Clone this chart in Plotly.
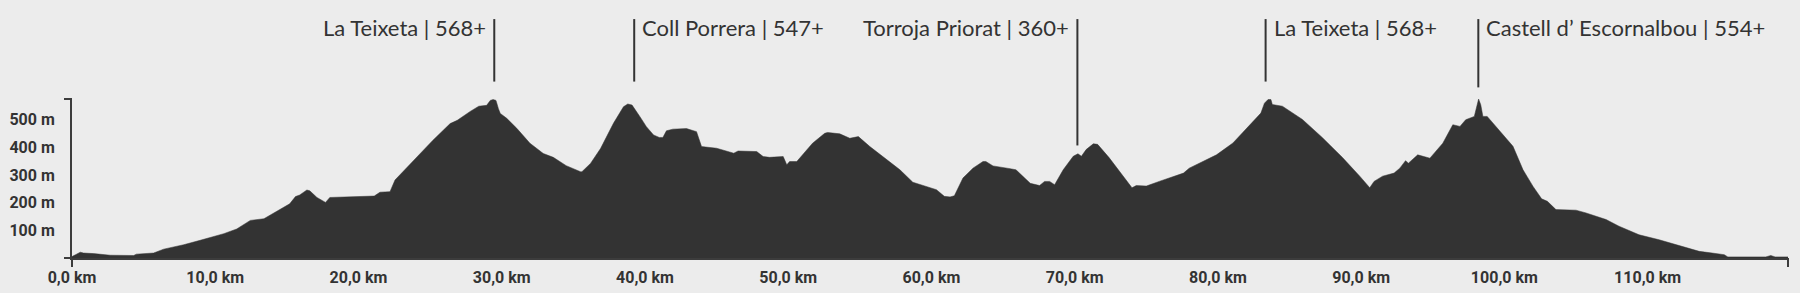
import plotly.graph_objects as go

# ---- data ----
distance_km = [0, 0.58, 0.8, 1.28, 1.5, 2.67, 4.3, 4.5, 5.7, 6.4, 7.8, 8.95, 10.6, 11.5, 12.45, 13.4,
               14.8, 15.2, 15.6, 15.9, 16.4, 16.6, 17.1, 17.7, 18.0, 19.4, 20.8, 21.1, 21.5, 22.2, 22.55,
               23.1, 24.07, 25.2, 26.4, 26.9, 27.8, 28.4, 28.95, 29.2, 29.4, 29.6, 29.77, 29.9, 30.35,
               31.05, 31.97, 32.9, 33.6, 34.5, 35.5, 35.6, 36.2, 36.9, 37.8, 38.5, 38.8, 39.1, 39.65,
               40.1, 40.6, 41.0, 41.25, 41.5, 41.95, 42.9, 43.6, 43.95, 45.0, 46.2, 46.5, 47.8, 48.25,
               48.7, 49.65, 49.9, 50.1, 50.6, 51.7, 52.55, 52.75, 53.6, 54.3, 54.9, 55.7, 56.9, 57.8,
               58.7, 59.9, 60.35, 60.9, 61.3, 61.6, 62.2, 62.9, 63.6, 63.8, 64.3, 65.5, 65.9, 66.9,
               67.55, 67.9, 68.25, 68.6, 69.2, 69.9, 70.23, 70.47, 70.8, 71.3, 71.6, 72.4, 73.4, 74.0,
               74.3, 75.0, 75.9, 77.6, 78.0, 79.9, 81.05, 82.2, 83.0, 83.25, 83.5, 83.7, 83.8, 84.5,
               85.9, 87.3, 88.7, 89.9, 90.6, 90.9, 91.5, 92.3, 92.7, 93.1, 93.3, 93.95, 94.3, 94.8,
               95.7, 96.4, 96.9, 97.3, 97.9, 98.05, 98.2, 98.35, 98.5, 98.8, 99.2, 99.9, 100.6, 101.3,
               102.0, 102.6, 103.0, 103.6, 105.0, 105.7, 107.1, 108.0, 109.4, 110.8, 112.2, 113.6,
               114.5, 115.35, 115.6, 118.25, 118.6, 118.9, 119.8]

elevation_m = [5, 21, 18, 18, 16, 10, 9, 14, 18, 32, 48, 64, 88, 105, 136, 142,
               184, 196, 222, 228, 246, 243, 219, 201, 219, 222, 224, 224, 238, 240, 282,
               312, 366, 426, 486, 498, 530, 549, 552, 570, 573, 570, 540, 523, 505,
               469, 415, 378, 364, 334, 312, 312, 342, 396, 487, 547, 557, 553, 511,
               475, 445, 436, 436, 460, 466, 468, 457, 403, 397, 379, 387, 385, 367,
               364, 367, 337, 349, 349, 415, 451, 454, 449, 433, 439, 403, 355, 319,
               274, 253, 247, 223, 221, 225, 289, 325, 349, 349, 333, 323, 319, 270,
               262, 277, 277, 265, 319, 368, 377, 368, 392, 413, 411, 363, 296, 254,
               262, 260, 277, 307, 325, 373, 416, 482, 524, 560, 573, 573, 555, 549,
               501, 435, 363, 296, 254, 277, 296, 307, 325, 352, 343, 373, 369, 361,
               415, 482, 476, 500, 512, 548, 575, 554, 512, 512, 488, 446, 404, 319,
               259, 214, 205, 175, 173, 163, 139, 115, 84, 66, 45, 24,
               18, 12, 4, 4, 9, 4, 4]

label_names = ["La Teixeta | 568+", "Coll Porrera | 547+", "Torroja Priorat | 360+",
               "La Teixeta | 568+", "Castell d\u2019 Escornalbou | 554+"]
label_km = [29.48, 39.25, 70.19, 83.33, 98.18]
label_side = ["left", "right", "left", "right", "right"]
label_line_end_m = [638, 638, 407, 638, 617]

x_tick_values = [0, 10, 20, 30, 40, 50, 60, 70, 80, 90, 100, 110]
x_tick_text = [f"{v:.1f}".replace(".", ",") + " km" for v in x_tick_values]
y_tick_values = [100, 200, 300, 400, 500]
y_tick_text = [f"{v} m" for v in y_tick_values]

# ---- styling ----
BG = "#ececec"
DARK = "#333333"
AXIS = "#3c3c3c"
X_MAX = 119.8
Y_MAX = 575
LINE_TOP_M = 864
TEXT_MID_M = 833

fig = go.Figure()
fig.add_trace(go.Scatter(
    x=distance_km, y=elevation_m, mode="lines", fill="tozeroy",
    line=dict(color=DARK, width=0.5), fillcolor=DARK, hoverinfo="skip", showlegend=False))

shapes = []
annotations = []
for name, km, side, end_m in zip(label_names, label_km, label_side, label_line_end_m):
    shapes.append(dict(type="line", xref="x", yref="paper", x0=km, x1=km,
                       y0=end_m / Y_MAX, y1=LINE_TOP_M / Y_MAX,
                       line=dict(color=DARK, width=2)))
    annotations.append(dict(
        text=name, xref="x", yref="paper", x=km, y=TEXT_MID_M / Y_MAX,
        xanchor="right" if side == "left" else "left", yanchor="middle",
        xshift=-6 if side == "left" else 6, showarrow=False,
        font=dict(family="Lato", size=22, color=DARK)))

# axis end caps
cap = dict(color=AXIS, width=2)
shapes += [
    dict(type="line", xref="paper", xsizemode="pixel", xanchor=0, x0=-8, x1=0,
         yref="y domain", y0=1, y1=1, line=cap),
    dict(type="line", xref="paper", xsizemode="pixel", xanchor=0, x0=-8, x1=0,
         yref="y domain", y0=0, y1=0, line=cap),
    dict(type="line", xref="x domain", x0=0, x1=0, yref="paper", ysizemode="pixel",
         yanchor=0, y0=0, y1=-9, line=cap),
    dict(type="line", xref="x domain", x0=1, x1=1, yref="paper", ysizemode="pixel",
         yanchor=0, y0=0, y1=-9, line=cap),
]

tick_font = dict(family="Roboto", size=16, color=DARK, weight=700)

fig.update_layout(
    template="none",
    width=1800, height=293,
    margin=dict(l=72, r=12, t=99, b=35, autoexpand=False),
    paper_bgcolor=BG, plot_bgcolor=BG,
    shapes=shapes, annotations=annotations,
    xaxis=dict(range=[0, X_MAX], tickvals=x_tick_values, ticktext=x_tick_text,
               showgrid=False, zeroline=False, showline=True, linecolor=AXIS, linewidth=2,
               ticks="", tickfont=tick_font, ticklabelstandoff=4, automargin=False),
    yaxis=dict(range=[0, Y_MAX], tickvals=y_tick_values, ticktext=y_tick_text,
               showgrid=False, zeroline=False, showline=True, linecolor=AXIS, linewidth=2,
               ticks="", tickfont=tick_font, ticklabelstandoff=12, automargin=False),
)

fig.write_html("out.html")
